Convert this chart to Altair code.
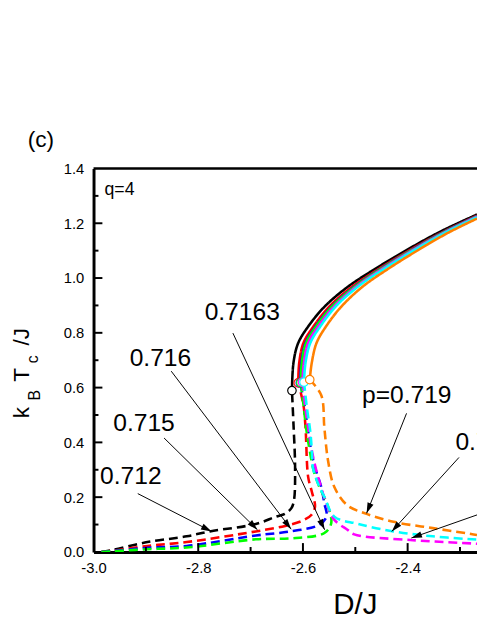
import math
import altair as alt
import pandas as pd

# ---------------- data ----------------
X_MIN, X_MAX = -3.0, -2.2675
Y_MIN, Y_MAX = 0.0, 1.4
W, H = 390, 390

p_values = ["0.712", "0.715", "0.716", "0.7163", "0.717", "0.718", "0.719"]
colors = ["#000000", "#ff0000", "#0000ff", "#00ff00", "#ff00ff", "#00ffff", "#ff8000"]

# upper (solid) branches, starting at the first-order point (circle)
solid_y_black = [0.589, 0.692, 0.763, 0.823, 0.895, 0.967, 1.030, 1.102, 1.168, 1.232]
solid_x_black = [-2.621, -2.618, -2.609, -2.590, -2.559, -2.515, -2.465, -2.402, -2.339, -2.2675]
solid_y_red = [0.617, 0.692, 0.763, 0.823, 0.895, 0.967, 1.030, 1.102, 1.168, 1.228]
solid_x_red = [-2.609, -2.607, -2.599, -2.580, -2.550, -2.507, -2.458, -2.396, -2.333, -2.2675]
solid_y_blue = [0.617, 0.692, 0.763, 0.823, 0.895, 0.967, 1.030, 1.102, 1.168, 1.226]
solid_x_blue = [-2.605, -2.603, -2.595, -2.576, -2.546, -2.503, -2.455, -2.393, -2.331, -2.2675]
solid_y_green = [0.618, 0.692, 0.763, 0.823, 0.895, 0.967, 1.030, 1.102, 1.168, 1.225]
solid_x_green = [-2.604, -2.602, -2.594, -2.575, -2.545, -2.502, -2.454, -2.392, -2.330, -2.2675]
solid_y_magenta = [0.620, 0.692, 0.763, 0.823, 0.895, 0.967, 1.030, 1.102, 1.168, 1.224]
solid_x_magenta = [-2.601, -2.598, -2.590, -2.571, -2.541, -2.499, -2.451, -2.390, -2.328, -2.2675]
solid_y_cyan = [0.620, 0.692, 0.763, 0.823, 0.895, 0.967, 1.030, 1.102, 1.168, 1.222]
solid_x_cyan = [-2.598, -2.595, -2.586, -2.567, -2.538, -2.496, -2.448, -2.387, -2.326, -2.2675]
solid_y_orange = [0.629, 0.692, 0.763, 0.823, 0.895, 0.967, 1.030, 1.102, 1.168, 1.217]
solid_x_orange = [-2.587, -2.583, -2.574, -2.556, -2.527, -2.487, -2.440, -2.380, -2.320, -2.2675]

# lower (dashed) branches
dash_x_black = [-2.985, -2.966, -2.897, -2.822, -2.778, -2.690, -2.653, -2.634, -2.622, -2.617, -2.615, -2.618, -2.621]
dash_y_black = [0.000, 0.006, 0.036, 0.057, 0.075, 0.102, 0.128, 0.140, 0.160, 0.190, 0.309, 0.464, 0.589]
dash_x_red = [-2.985, -2.966, -2.897, -2.822, -2.690, -2.634, -2.600, -2.584, -2.577, -2.583, -2.590, -2.595, -2.599, -2.609]
dash_y_red = [0.000, 0.004, 0.022, 0.036, 0.075, 0.095, 0.115, 0.135, 0.165, 0.220, 0.273, 0.452, 0.536, 0.617]
dash_x_blue = [-2.985, -2.966, -2.897, -2.822, -2.690, -2.624, -2.570, -2.555, -2.559, -2.565, -2.577, -2.584, -2.590, -2.596, -2.605]
dash_y_blue = [0.000, 0.003, 0.015, 0.022, 0.060, 0.075, 0.098, 0.129, 0.177, 0.237, 0.309, 0.369, 0.440, 0.524, 0.617]
dash_x_green = [-2.985, -2.966, -2.897, -2.822, -2.690, -2.620, -2.559, -2.546, -2.552, -2.571, -2.580, -2.587, -2.593, -2.598, -2.604]
dash_y_green = [0.000, 0.002, 0.010, 0.016, 0.046, 0.050, 0.069, 0.105, 0.165, 0.249, 0.300, 0.370, 0.440, 0.520, 0.618]
dash_x_magenta = [-2.601, -2.595, -2.589, -2.582, -2.571, -2.555, -2.540, -2.515, -2.502, -2.390, -2.277, -2.2675]
dash_y_magenta = [0.620, 0.520, 0.440, 0.360, 0.273, 0.177, 0.117, 0.081, 0.064, 0.043, 0.031, 0.030]
dash_x_cyan = [-2.598, -2.592, -2.586, -2.583, -2.581, -2.571, -2.559, -2.540, -2.496, -2.427, -2.352, -2.277, -2.2675]
dash_y_cyan = [0.620, 0.520, 0.440, 0.370, 0.309, 0.249, 0.201, 0.129, 0.103, 0.075, 0.057, 0.046, 0.045]
dash_x_orange = [-2.587, -2.565, -2.559, -2.552, -2.540, -2.515, -2.480, -2.427, -2.352, -2.274, -2.2675]
dash_y_orange = [0.629, 0.572, 0.452, 0.333, 0.237, 0.170, 0.140, 0.110, 0.087, 0.064, 0.062]

# annotation arrows (start -> tip), in data units
arrow_x1 = [-2.9155, -2.8653, -2.8516, -2.7338, -2.4021, -2.3019, -2.2394]
arrow_y1 = [0.213, 0.416, 0.660, 0.799, 0.506, 0.345, 0.154]
arrow_x2 = [-2.7746, -2.6869, -2.6225, -2.5586, -2.4784, -2.4303, -2.3928]
arrow_y2 = [0.075, 0.081, 0.083, 0.081, 0.141, 0.075, 0.051]

# annotation labels
label_text = ["0.712", "0.715", "0.716", "0.7163", "p=0.719", "0.718"]
label_x = [-2.9875, -2.9624, -2.931, -2.7878, -2.4872, -2.3088]
label_y = [0.249, 0.441, 0.680, 0.847, 0.542, 0.373]

x_major = [-3.0, -2.8, -2.6, -2.4]
x_minor = [-2.9, -2.7, -2.5, -2.3]
y_major = [0.0, 0.2, 0.4, 0.6, 0.8, 1.0, 1.2, 1.4]
y_minor = [0.1, 0.3, 0.5, 0.7, 0.9, 1.1, 1.3]

FONT = "Liberation Sans"

# ---------------- tables ----------------
names = ["black", "red", "blue", "green", "magenta", "cyan", "orange"]
solid = {
    "black": (solid_x_black, solid_y_black), "red": (solid_x_red, solid_y_red),
    "blue": (solid_x_blue, solid_y_blue), "green": (solid_x_green, solid_y_green),
    "magenta": (solid_x_magenta, solid_y_magenta), "cyan": (solid_x_cyan, solid_y_cyan),
    "orange": (solid_x_orange, solid_y_orange),
}
dashed = {
    "black": (dash_x_black, dash_y_black), "red": (dash_x_red, dash_y_red),
    "blue": (dash_x_blue, dash_y_blue), "green": (dash_x_green, dash_y_green),
    "magenta": (dash_x_magenta, dash_y_magenta), "cyan": (dash_x_cyan, dash_y_cyan),
    "orange": (dash_x_orange, dash_y_orange),
}
rows = []
for k, (name, col) in enumerate(zip(names, colors)):
    for kind, src in (("dashed", dashed), ("solid", solid)):
        xs_, ys_ = src[name]
        for i, (xv, yv) in enumerate(zip(xs_, ys_)):
            rows.append({"key": f"{k}_{kind}", "kind": kind, "p": p_values[k],
                         "color": col, "i": i, "x": xv, "y": yv})
lines_df = pd.DataFrame(rows)

circ_df = pd.DataFrame([
    {"x": solid[n][0][0], "y": solid[n][1][0], "color": c} for n, c in zip(names, colors)
])

px_per_x = W / (X_MAX - X_MIN)
px_per_y = H / (Y_MAX - Y_MIN)
arr_rows = []
for a, b, c, d in zip(arrow_x1, arrow_y1, arrow_x2, arrow_y2):
    dx = (c - a) * px_per_x
    dy = -(d - b) * px_per_y
    ang = math.degrees(math.atan2(dx, -dy)) % 360
    arr_rows.append({"x1": a, "y1": b, "x2": c, "y2": d, "ang": ang})
arr_df = pd.DataFrame(arr_rows)

lab_df = pd.DataFrame({"t": label_text, "x": label_x, "y": label_y})

xs = alt.Scale(domain=[X_MIN, X_MAX], nice=False, zero=False)
ys = alt.Scale(domain=[Y_MIN, Y_MAX], nice=False, zero=False)

neg_fmt = "datum.value < 0 ? '-' + format(-datum.value, '.1f') : format(datum.value, '.1f')"

base = alt.Chart(lines_df)

lines = base.mark_line(strokeWidth=2.6, interpolate="catmull-rom", clip=True).encode(
    x=alt.X("x:Q", scale=xs, axis=alt.Axis(
        values=x_major, labelExpr=neg_fmt, ticks=False, grid=False, domainWidth=3,
        domainColor="black", labelFontSize=15, labelFont=FONT, labelColor="black",
        labelPadding=9, labelFlush=False, title=None)),
    y=alt.Y("y:Q", scale=ys, axis=alt.Axis(
        values=y_major, format=".1f", ticks=False, grid=False, domainWidth=3,
        domainColor="black", labelFontSize=15, labelFont=FONT, labelColor="black",
        labelPadding=10, labelFlush=False, title=None)),
    detail="key:N",
    order=alt.Order("i:Q"),
    stroke=alt.Stroke("color:N", scale=None),
    strokeDash=alt.StrokeDash("kind:N", scale=alt.Scale(domain=["solid", "dashed"],
                                                        range=[[1, 0], [9, 5]]), legend=None),
)

circles = alt.Chart(circ_df).mark_point(
    shape="circle", size=75, fill="white", fillOpacity=1, opacity=1, strokeWidth=1.2
).encode(x=alt.X("x:Q", scale=xs), y=alt.Y("y:Q", scale=ys),
         stroke=alt.Stroke("color:N", scale=None))

arrow_lines = alt.Chart(arr_df).mark_rule(color="black", strokeWidth=1, clip=True).encode(
    x=alt.X("x1:Q", scale=xs), y=alt.Y("y1:Q", scale=ys), x2="x2:Q", y2="y2:Q")

arrow_heads = alt.Chart(arr_df).mark_point(
    shape="M0,0L0.3,1L-0.3,1Z", filled=True, color="black", size=460, opacity=1, clip=True
).encode(x=alt.X("x2:Q", scale=xs), y=alt.Y("y2:Q", scale=ys),
         angle=alt.Angle("ang:Q", scale=None))

labels = alt.Chart(lab_df).mark_text(
    font=FONT, fontSize=25, align="left", baseline="alphabetic", color="black", clip=True
).encode(x=alt.X("x:Q", scale=xs), y=alt.Y("y:Q", scale=ys), text="t:N")

q_label = alt.Chart(pd.DataFrame({"t": ["q=4"], "x": [-2.979], "y": [1.304]})).mark_text(
    font=FONT, fontSize=18, align="left", baseline="alphabetic", color="black"
).encode(x=alt.X("x:Q", scale=xs), y=alt.Y("y:Q", scale=ys), text="t:N")

# frame: top line
top_line = alt.Chart(pd.DataFrame({"a": [X_MIN], "b": [X_MAX], "y": [Y_MAX]})).mark_rule(
    color="black", strokeWidth=2.6).encode(x=alt.X("a:Q", scale=xs), x2="b:Q",
                                           y=alt.Y("y:Q", scale=ys))

# inward ticks
xt_major = alt.Chart(pd.DataFrame({"v": x_major[1:]})).mark_rule(color="black", strokeWidth=2).encode(
    x=alt.X("v:Q", scale=xs), y=alt.value(H), y2=alt.value(H - 9))
xt_minor = alt.Chart(pd.DataFrame({"v": x_minor})).mark_rule(color="black", strokeWidth=2).encode(
    x=alt.X("v:Q", scale=xs), y=alt.value(H), y2=alt.value(H - 5))
yt_major = alt.Chart(pd.DataFrame({"v": y_major[1:-1]})).mark_rule(color="black", strokeWidth=2).encode(
    y=alt.Y("v:Q", scale=ys), x=alt.value(0), x2=alt.value(9))
yt_minor = alt.Chart(pd.DataFrame({"v": y_minor})).mark_rule(color="black", strokeWidth=2).encode(
    y=alt.Y("v:Q", scale=ys), x=alt.value(0), x2=alt.value(5))

# titles
def txt(s, x, y, size, angle=0, align="left", baseline="alphabetic"):
    kw = dict(text=s, font=FONT, fontSize=size, align=align, baseline=baseline, color="black")
    if angle:
        kw["angle"] = angle
    return alt.Chart(pd.DataFrame({"d": [0]})).mark_text(**kw).encode(
        x=alt.value(x), y=alt.value(y))

x_title = alt.Chart(pd.DataFrame({"x": [-2.5]})).mark_text(
    text="D/J", font=FONT, fontSize=30, align="center", baseline="alphabetic", color="black"
).encode(x=alt.X("x:Q", scale=xs), y=alt.value(453))

y_title = [
    txt("k", -66, 254, 23, 270),
    txt("B", -54, 236, 16, 270),
    txt("T", -66, 217, 23, 270),
    txt("c", -56, 198, 16, 270),
    txt("/J", -66, 180, 23, 270),
]
panel_tag = txt("(c)", -67, -22, 23)

chart = alt.layer(
    lines, circles, arrow_lines, arrow_heads, labels, q_label, top_line,
    xt_major, xt_minor, yt_major, yt_minor, x_title, *y_title, panel_tag
).properties(
    width=W, height=H,
    autosize=alt.AutoSizeParams(type="none"),
    padding={"left": 87, "top": 158, "right": 0, "bottom": 64},
).configure_view(stroke=None)

chart.save("out.html", embed_options={"renderer": "svg", "actions": False})
